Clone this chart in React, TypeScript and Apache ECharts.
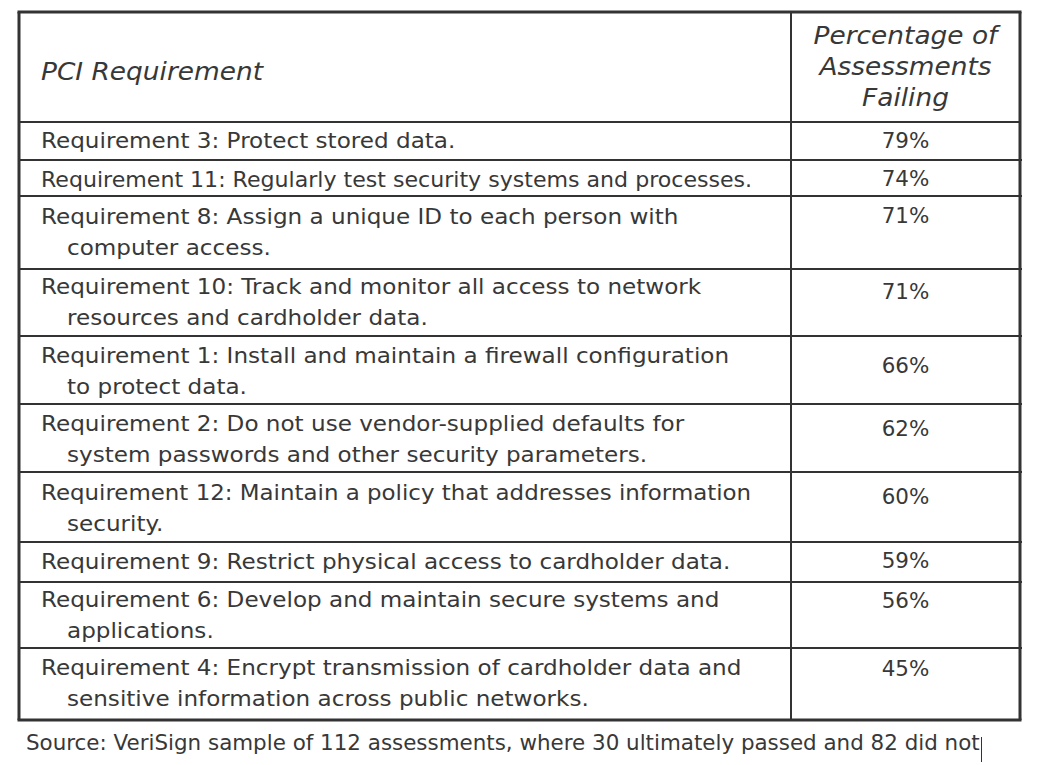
import React, { useEffect, useRef } from "react";
import * as echarts from "echarts";

// ---- data ----
const headerLeft = "PCI Requirement";
const headerRight = ["Percentage of", "Assessments", "Failing"];
const requirements: string[][] = [
  ["Requirement 3: Protect stored data."],
  ["Requirement 11: Regularly test security systems and processes."],
  ["Requirement 8: Assign a unique ID to each person with", "computer access."],
  ["Requirement 10: Track and monitor all access to network", "resources and cardholder data."],
  ["Requirement 1: Install and maintain a firewall configuration", "to protect data."],
  ["Requirement 2: Do not use vendor-supplied defaults for", "system passwords and other security parameters."],
  ["Requirement 12: Maintain a policy that addresses information", "security."],
  ["Requirement 9: Restrict physical access to cardholder data."],
  ["Requirement 6: Develop and maintain secure systems and", "applications."],
  ["Requirement 4: Encrypt transmission of cardholder data and", "sensitive information across public networks."],
];
const percentages = [79, 74, 71, 71, 66, 62, 60, 59, 56, 45];
const sourceNote =
  "Source: VeriSign sample of 112 assessments, where 30 ultimately passed and 82 did not";

// ---- layout ----
const TABLE_LEFT = 19;
const TABLE_RIGHT = 1020;
const COL_DIV = 791;
const TABLE_TOP = 12;
const HEADER_BOTTOM = 122;
const rowBottoms = [160, 196, 269, 336, 404, 472, 542, 582, 648, 720];
const firstLineY = [141, 180, 217, 287, 356, 424, 493, 562, 600, 668];
const pctY = [141, 179, 216, 292, 366, 429, 497, 561, 601, 669];
const LINE_GAP = 31;
const TEXT_X = 41;
const INDENT_X = 67;
const TEXT_MAX_RIGHT = 752;
const PCT_X = (COL_DIV + TABLE_RIGHT) / 2;

const FONT = "'DejaVu Sans', sans-serif";
const BODY_SIZE = 21;
const BODY_SCALE = 1.1;
const PCT_SCALE = 1.02;
const SOURCE_SCALE = 1.02;
const HEAD_SIZE = 24;
const HEAD_SCALE = 1.1;
const TEXT_COLOR = "#383838";
const LINE_COLOR = "#333333";

function measure(t: string, font: string): number {
  const c = document.createElement("canvas").getContext("2d");
  if (!c) return 0;
  c.font = font;
  return c.measureText(t).width;
}

export default function App() {
  const ref = useRef<HTMLDivElement>(null);

  useEffect(() => {
    if (!ref.current) return;
    const chart = echarts.init(ref.current, undefined, { renderer: "svg" });
    const els: any[] = [];

    const line = (x1: number, y1: number, x2: number, y2: number, w: number) =>
      els.push({
        type: "line",
        shape: { x1, y1, x2, y2 },
        style: { stroke: LINE_COLOR, lineWidth: w },
        silent: true,
      });
    const text = (
      t: string,
      x: number,
      y: number,
      size: number,
      align: string,
      scaleX: number,
      italic = false,
      maxWidth = 0
    ) => {
      const font = `${italic ? "italic " : ""}normal ${size}px ${FONT}`;
      let sx = scaleX;
      if (maxWidth > 0) {
        const w = measure(t, font);
        if (w > 0 && w * sx > maxWidth) sx = maxWidth / w;
      }
      els.push({
        type: "text",
        x,
        y,
        scaleX: sx,
        style: {
          text: t,
          fill: TEXT_COLOR,
          font,
          fontFamily: FONT,
          fontSize: size,
          fontStyle: italic ? "italic" : "normal",
          textAlign: align,
          textVerticalAlign: "middle",
        },
        silent: true,
      });
    };

    const bottom = rowBottoms[rowBottoms.length - 1];
    // inner grid lines
    line(TABLE_LEFT, HEADER_BOTTOM, TABLE_RIGHT, HEADER_BOTTOM, 2);
    rowBottoms.slice(0, -1).forEach((y) => line(TABLE_LEFT, y, TABLE_RIGHT + 2, y, 2));
    line(COL_DIV, TABLE_TOP, COL_DIV, bottom, 2);
    // outer border
    line(TABLE_LEFT - 1.5, TABLE_TOP, TABLE_RIGHT + 1.5, TABLE_TOP, 3);
    line(TABLE_LEFT - 1.5, bottom, TABLE_RIGHT + 1.5, bottom, 3);
    line(TABLE_LEFT, TABLE_TOP, TABLE_LEFT, bottom, 3);
    line(TABLE_RIGHT, TABLE_TOP, TABLE_RIGHT, bottom, 3);

    // header
    text(headerLeft, TEXT_X, 72, HEAD_SIZE, "left", HEAD_SCALE, true);
    headerRight.forEach((t, i) =>
      text(t, PCT_X, 36 + i * 31, HEAD_SIZE, "center", HEAD_SCALE, true)
    );

    // rows
    requirements.forEach((lines, r) => {
      lines.forEach((t, i) => {
        const x = i === 0 ? TEXT_X : INDENT_X;
        text(
          t,
          x,
          firstLineY[r] + i * LINE_GAP,
          BODY_SIZE,
          "left",
          BODY_SCALE,
          false,
          TEXT_MAX_RIGHT - x
        );
      });
      text(`${percentages[r]}%`, PCT_X, pctY[r], BODY_SIZE, "center", PCT_SCALE);
    });

    // source note + trailing caret
    text(sourceNote, 26, 743, BODY_SIZE, "left", SOURCE_SCALE);
    line(981.5, 737, 981.5, 762, 1);

    chart.setOption({
      animation: false,
      backgroundColor: "#ffffff",
      graphic: { elements: els },
    });
    return () => chart.dispose();
  }, []);

  return (
    <div
      ref={ref}
      style={{ position: "fixed", left: 0, top: 0, width: 1038, height: 765, background: "#fff" }}
    />
  );
}
